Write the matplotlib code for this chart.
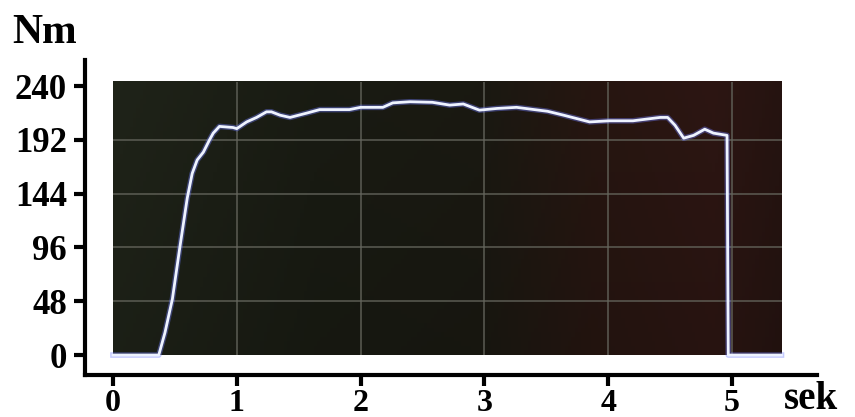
import numpy as np
import matplotlib.pyplot as plt

# torque trace
time_s = [0.00, 0.37, 0.42, 0.48, 0.54, 0.60, 0.64, 0.68, 0.73, 0.78, 0.81,
          0.86, 0.97, 1.00, 1.08, 1.16, 1.24, 1.28, 1.35, 1.43, 1.57, 1.67,
          1.91, 2.00, 2.18, 2.26, 2.40, 2.58, 2.72, 2.83, 2.96, 3.10, 3.26,
          3.51, 3.64, 3.85, 4.01, 4.20, 4.42, 4.48, 4.54, 4.61, 4.69, 4.78,
          4.85, 4.96, 4.97, 5.40]
torque_nm = [0, 0, 20, 50, 96, 140, 162, 174, 181, 192, 198,
             204, 203, 202, 208, 212, 217, 217, 214, 212, 216, 219,
             219, 221, 221, 225, 226, 225.5, 223, 224, 218.5, 220, 221,
             217.5, 214, 208, 209, 209, 212, 212, 205, 193.5, 196, 201.5,
             198, 196, 0, 0]

x_ticks = [0, 1, 2, 3, 4, 5]
y_ticks = [0, 48, 96, 144, 192, 240]

# extent of the photographed screen in data units
screen_x = (0.0, 5.40)
screen_y = (0.0, 244.0)

plt.rcParams['font.family'] = 'Liberation Serif'
plt.rcParams['font.weight'] = 'bold'

fig = plt.figure(figsize=(8.55, 4.17), dpi=100)
ax = fig.add_axes([0.0994, 0.1007, 0.8562, 0.7553])

# dark screen background: greenish on the left, reddish on the right
stops = [0.0, 0.3, 0.55, 0.72, 0.9, 1.0]
cols = np.array([[0x1e, 0x22, 0x18], [0x18, 0x1a, 0x12], [0x19, 0x18, 0x11],
                 [0x25, 0x15, 0x10], [0x2b, 0x15, 0x12], [0x24, 0x13, 0x10]]) / 255
u = np.linspace(0, 1, 200)
row = np.stack([np.interp(u, stops, cols[:, c]) for c in range(3)], axis=-1)
v = np.linspace(0, 1, 60)[:, None, None]
bg = row[None, :, :] * (0.92 + 0.12 * v)
ax.imshow(np.clip(bg, 0, 1), extent=(*screen_x, *screen_y), aspect='auto',
          origin='lower', zorder=1)

# screen graticule
ax.vlines(x_ticks[1:], *screen_y, color='#66675e', lw=1.2, alpha=0.8, zorder=2)
ax.hlines(y_ticks[1:-1], *screen_x, color='#66675e', lw=1.2, alpha=0.8, zorder=2)

# trace with a faint blue glow
ax.plot(time_s, torque_nm, color='#6f7cff', lw=4.0, alpha=0.4, zorder=3)
ax.plot(time_s, torque_nm, color='#eef3ff', lw=2.0, zorder=4)

ax.set_xlim(-0.226, 5.687)
ax.set_ylim(-17.8, 263.2)
ax.set_xticks(x_ticks)
ax.set_yticks(y_ticks)

for side in ['top', 'right']:
    ax.spines[side].set_visible(False)
for side in ['left', 'bottom']:
    ax.spines[side].set_linewidth(3.0)
    ax.spines[side].set_color('black')
ax.tick_params(axis='both', direction='out', length=8, width=3, colors='black')
ax.tick_params(axis='y', labelsize=25, pad=5)
ax.tick_params(axis='x', labelsize=23, pad=2)
for lab in ax.get_xticklabels() + ax.get_yticklabels():
    lab.set_fontweight('bold')

fig.text(12 / 855, 0.897, 'Nm', fontsize=30, fontweight='bold', va='baseline')
fig.text(0.917, 0.02, 'sek', fontsize=28, fontweight='bold', va='baseline')

fig.savefig('out.png', dpi=100)
